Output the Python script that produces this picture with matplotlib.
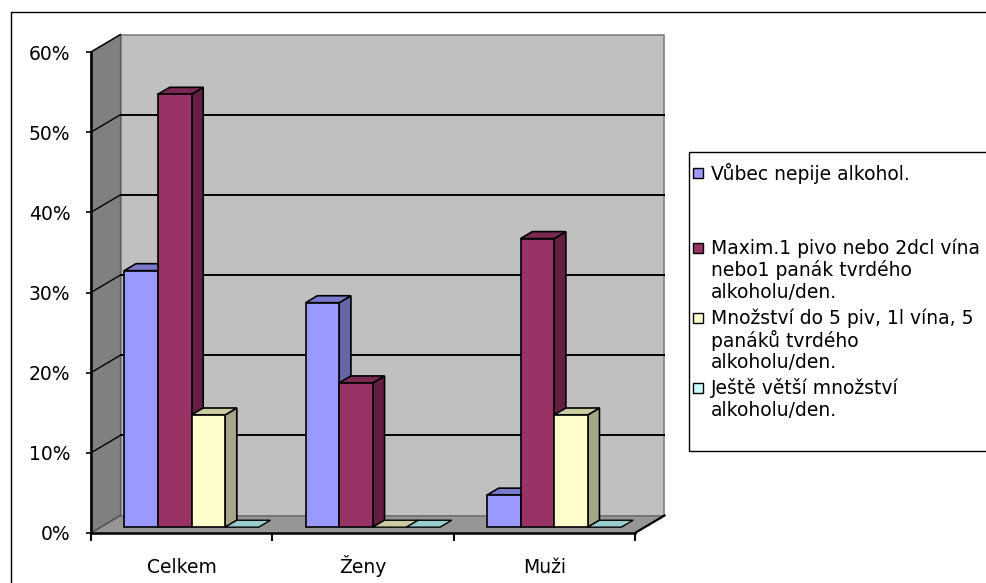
import matplotlib.pyplot as plt
from matplotlib.patches import Polygon, Rectangle

plt.rcParams['font.family'] = ['DejaVu Sans']

# --- data -------------------------------------------------------------
categories = ["Celkem", "Ženy", "Muži"]
series_names = [
    "Vůbec nepije alkohol.",
    "Maxim.1 pivo nebo 2dcl vína\nnebo1 panák tvrdého\nalkoholu/den.",
    "Množství do 5 piv, 1l vína, 5\npanáků tvrdého\nalkoholu/den.",
    "Ještě větší množství\nalkoholu/den.",
]
nepije = [32, 28, 4]
maximalne = [54, 18, 36]
mnozstvi = [14, 0, 14]
vetsi = [0, 0, 0]
values = [nepije, maximalne, mnozstvi, vetsi]
y_ticks = [0, 10, 20, 30, 40, 50, 60]

# front / top / side colours of each series
front_col = ["#9999FF", "#993366", "#FFFFCC", "#CCFFFF"]
top_col = ["#7A7ACC", "#7A2952", "#CCCCA3", "#99CCCC"]
side_col = ["#6666AA", "#631F42", "#A6A686", "#80AAAA"]

W, H = 986, 583
FS = 13.5
fig = plt.figure(figsize=(W / 100, H / 100), dpi=100)

# outer frame
bg = fig.add_axes([0, 0, 1, 1])
bg.set_xlim(0, W)
bg.set_ylim(H, 0)
bg.axis("off")
bg.plot([11, 11, W + 5], [H + 5, 12, 12], color="black", lw=1, clip_on=False)

# plot area: front plane of the floor
ax = fig.add_axes([91 / W, 1 - 533 / H, 544 / W, 481 / H])
ax.set_xlim(0, 3)
ax.set_ylim(0, 60)
ax.patch.set_visible(False)

# depth of the box in data units
DX = 29.5 / 544 * 3
DY = 17.5 / 481 * 60


def proj(x, y, d):
    return (x + d * DX, y + d * DY)


def face(pts, fc, ec="black", lw=1.2, z=1):
    ax.add_patch(Polygon([proj(*p) for p in pts], closed=True, fc=fc, ec=ec,
                         lw=lw, zorder=z, clip_on=False, joinstyle="miter"))


# walls and floor
top = y_ticks[-1]
face([(0, 0, 1), (3, 0, 1), (3, top, 1), (0, top, 1)], "#C0C0C0", ec="#808080", lw=1.2, z=0.5)
face([(0, 0, 0), (0, 0, 1), (0, top, 1), (0, top, 0)], "#808080", ec="#606060", lw=1.0, z=0.6)
face([(0, 0, 0), (3, 0, 0), (3, 0, 1), (0, 0, 1)], "#969696", ec="none", lw=0, z=0.7)

for t in y_ticks[1:-1]:
    xs, ys = zip(proj(0, t, 1), proj(3, t, 1))
    ax.plot(xs, ys, color="black", lw=1.4, zorder=0.8, clip_on=False)
for t in y_ticks[1:]:
    xs, ys = zip(proj(0, t, 0), proj(0, t, 1))
    ax.plot(xs, ys, color="black", lw=1.0, zorder=0.8, clip_on=False)
xs, ys = zip(proj(0, 0, 1), proj(3, 0, 1))
ax.plot(xs, ys, color="#707070", lw=1.2, zorder=0.8, clip_on=False)
xs, ys = zip(proj(0, 0, 0), proj(0, 0, 1))
ax.plot(xs, ys, color="#505050", lw=1.0, zorder=0.8, clip_on=False)
xs, ys = zip(proj(3, 0, 0), proj(3, 0, 1))
ax.plot(xs, ys, color="black", lw=1.6, zorder=0.8, clip_on=False)

# bars
w = 33.6 / 181.33
off = (1 - 4 * w) / 2
d_front, d_back = 1 / 3, 0.73
z = 2
for i in range(len(categories)):
    for j, vals in enumerate(values):
        v = vals[i]
        x0 = i + off + j * w
        x1 = x0 + w
        if v > 0:
            face([(x1, 0, d_front), (x1, 0, d_back), (x1, v, d_back), (x1, v, d_front)], side_col[j], z=z)
            face([(x0, v, d_front), (x1, v, d_front), (x1, v, d_back), (x0, v, d_back)], top_col[j], z=z + 0.1)
            face([(x0, 0, d_front), (x1, 0, d_front), (x1, v, d_front), (x0, v, d_front)], front_col[j], z=z + 0.2)
        else:
            face([(x0, 0, d_front), (x1, 0, d_front), (x1, 0, d_back), (x0, 0, d_back)], top_col[j], lw=1.0, z=z)
        z += 1

# axes
for s in ("top", "right"):
    ax.spines[s].set_visible(False)
for s in ("left", "bottom"):
    ax.spines[s].set_linewidth(1.8)
    ax.spines[s].set_zorder(50)

ax.set_yticks(y_ticks)
ax.set_yticklabels([f"{t}%" for t in y_ticks])
ax.tick_params(axis="y", length=3.8, width=1.2, pad=11, labelsize=FS)

ax.set_xticks(range(len(categories) + 1))
ax.set_xticklabels([])
ax.set_xticks([i + 0.5 for i in range(len(categories))], minor=True)
ax.set_xticklabels(categories, minor=True)
ax.tick_params(axis="x", which="major", length=6, width=1.4)
ax.tick_params(axis="x", which="minor", length=0, pad=28.5, labelsize=FS)
for lbl in ax.get_xticklabels(minor=True):
    lbl.set_verticalalignment("baseline")

# legend
bg.add_patch(Rectangle((689, 152), W + 10 - 689, 451 - 152, fc="white", ec="black", lw=1, clip_on=False))
first_line = [173, 248, 318, 388]
line_step = 22.5
for j, name in enumerate(series_names):
    y0 = first_line[j]
    bg.add_patch(Rectangle((693, y0 - 5), 10, 10, fc=front_col[j], ec="black", lw=1))
    for k, line in enumerate(name.split("\n")):
        bg.text(711, y0 + k * line_step, line, fontsize=FS, ha="left", va="center")

fig.savefig("out.png", dpi=100)
